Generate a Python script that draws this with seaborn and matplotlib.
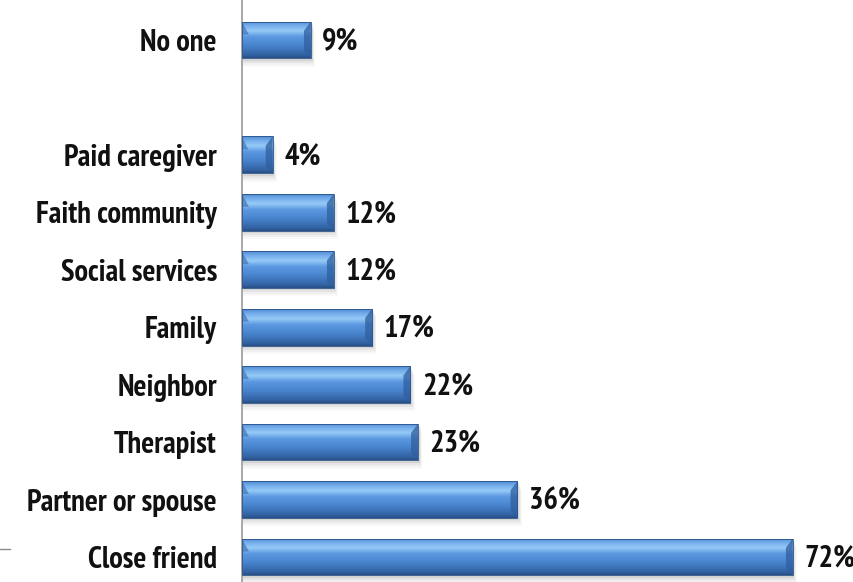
import numpy as np
import pandas as pd
import matplotlib
matplotlib.use("Agg")
import matplotlib.pyplot as plt
import matplotlib.patches as mpatches
from matplotlib.colors import LinearSegmentedColormap
import seaborn as sns

# Who respondents turn to for support (percent)
categories = ["No one", "Paid caregiver", "Faith community", "Social services",
              "Family", "Neighbor", "Therapist", "Partner or spouse", "Close friend"]
values = [9, 4, 12, 12, 17, 22, 23, 36, 72]
# blank slot separates "No one" from the rest
order = ["No one", " ", "Paid caregiver", "Faith community", "Social services",
         "Family", "Neighbor", "Therapist", "Partner or spouse", "Close friend"]
value_labels = [f"{v}%" for v in values]

sns.set_theme(style="white")
plt.rcParams["font.family"] = ["PT Sans Narrow", "DejaVu Sans"]

df = pd.DataFrame({"source": categories, "pct": values})

fig = plt.figure(figsize=(8.54, 5.82), dpi=100)
ax = fig.add_axes([242 / 854, 0, 1 - 242 / 854, 1])

sns.barplot(data=df, y="source", x="pct", order=order, orient="h",
            width=0.64, color="#4a86c8", ax=ax)

ax.set_xlim(0, 80)
ax.set_ylim(9.435, -0.696)

# bevelled cylinder look: vertical gradient clipped to each bar
bar_cmap = LinearSegmentedColormap.from_list(
    "bevel",
    [(0.0, "#4f8ad0"), (0.1, "#6ea8e8"), (0.26, "#96cbf8"), (0.42, "#5b98e0"),
     (0.62, "#4b88d2"), (0.82, "#3b6fb4"), (0.93, "#30609e"), (1.0, "#284e84")])
grad = np.linspace(0, 1, 256).reshape(-1, 1)

for patch in list(ax.patches):
    x0, y0 = patch.get_x(), patch.get_y()
    w, h = patch.get_width(), patch.get_height()
    if not np.isfinite(w) or w <= 0:
        continue
    # soft drop shadow
    for k, a in enumerate([0.13, 0.09, 0.06, 0.04]):
        off = 0.04 + 0.035 * k
        sh = mpatches.Rectangle((x0 + 0.1, y0 + off), w + 0.12 * (k + 1), h,
                                facecolor="#6e6e6e", edgecolor="none",
                                alpha=a, zorder=1)
        ax.add_patch(sh)
    patch.set_facecolor("none")
    patch.set_edgecolor("#2a5288")
    patch.set_linewidth(0.6)
    patch.set_zorder(3)
    im = ax.imshow(grad, cmap=bar_cmap, aspect="auto",
                   extent=(x0, x0 + w, y0 + h, y0), zorder=2,
                   interpolation="bicubic")
    im.set_clip_path(patch)
    # darker bevel at the right end
    d = min(0.9, w * 0.25)
    end = mpatches.Polygon([(x0 + w - d, y0 + h * 0.25), (x0 + w, y0),
                            (x0 + w, y0 + h), (x0 + w - d, y0 + h * 0.8)],
                           closed=True, facecolor="#2f5f9e", edgecolor="none",
                           alpha=0.75, zorder=2.5)
    ax.add_patch(end)
    # bevel at the top-left corner
    dl = min(0.9, w * 0.2)
    tl = mpatches.Polygon([(x0, y0), (x0 + dl, y0 + h * 0.35), (x0, y0 + h * 0.35)],
                          closed=True, facecolor="#3a70b2", edgecolor="none",
                          alpha=0.65, zorder=2.5)
    ax.add_patch(tl)

ax.set_xlim(0, 80)
ax.set_ylim(9.435, -0.696)

# value labels at the bar ends
for cat, v, lab in zip(categories, values, value_labels):
    ypos = order.index(cat)
    ax.text(v + 1.5, ypos + 0.03, lab, ha="left", va="center",
            fontsize=22, fontweight="bold", color="#111111")

ax.set_xlabel("")
ax.set_ylabel("")
ax.set_xticks([])
ax.tick_params(axis="y", length=0, pad=18, labelsize=22, labelcolor="#111111")
for lbl in ax.get_yticklabels():
    lbl.set_fontweight("bold")

for side in ["top", "right", "bottom"]:
    ax.spines[side].set_visible(False)
ax.spines["left"].set_color("#9a9a9a")
ax.spines["left"].set_linewidth(1.2)
ax.grid(False)

# small tick mark at the lower left
fig.add_artist(plt.Line2D([0, 10 / 854], [1 - 549 / 582, 1 - 549 / 582],
                          color="#8a8a8a", lw=1))

fig.savefig("out.png", dpi=100)
